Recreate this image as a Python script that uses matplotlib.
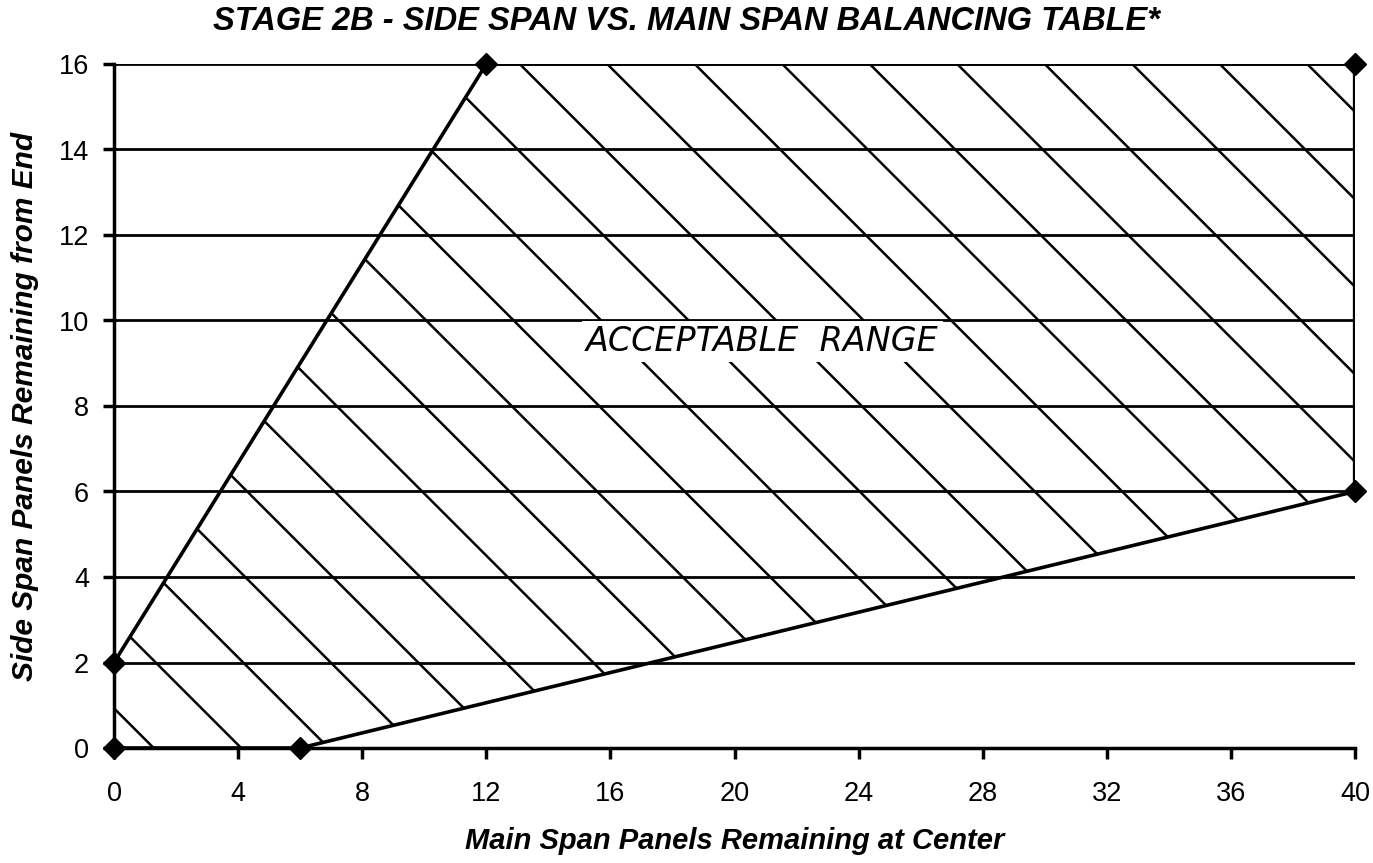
import numpy as np
import matplotlib
matplotlib.use("Agg")
import matplotlib.pyplot as plt
from matplotlib.patches import Polygon

# boundary of acceptable range (main span panels, side span panels)
main_span = [0, 6, 40, 40, 12, 0]
side_span = [0, 0, 6, 16, 16, 2]

x_ticks = [0, 4, 8, 12, 16, 20, 24, 28, 32, 36, 40]
y_ticks = [0, 2, 4, 6, 8, 10, 12, 14, 16]

title = "STAGE 2B - SIDE SPAN VS. MAIN SPAN BALANCING TABLE*"
xlabel = "Main Span Panels Remaining at Center"
ylabel = "Side Span Panels Remaining from End"
region_label = "ACCEPTABLE  RANGE"

W, H = 1373, 863
fig = plt.figure(figsize=(W / 100, H / 100), dpi=100)
left, right, bottom, top = 114 / W, 1355 / W, 1 - 748 / H, 1 - 64 / H
ax = fig.add_axes([left, bottom, right - left, top - bottom])
ax.set_xlim(0, 40)
ax.set_ylim(0, 16)

# hatch lines at 45 deg on screen, clipped to the region
px_x = (right - left) * W / 40.0
px_y = (top - bottom) * H / 16.0
slope = px_x / px_y
spacing = 87.5 / px_x
offset = 1.28

poly = Polygon(np.column_stack([main_span, side_span]), closed=True,
               facecolor="none", edgecolor="none")
ax.add_patch(poly)
b = offset
while b < 40 + 16 / slope + spacing:
    ys = np.array([0, 16])
    xs = b - ys / slope
    ln, = ax.plot(xs, ys, color="black", lw=1.8, zorder=2)
    ln.set_clip_path(poly)
    b += spacing

# grid lines
for yv in y_ticks[1:]:
    ax.axhline(yv, color="black", lw=2.0, zorder=1)

# boundary and points
ax.plot(main_span + [main_span[0]], side_span + [side_span[0]],
        color="black", lw=2.6, zorder=4)
ax.plot([40, 40], [6, 16], color="black", lw=3.8, zorder=4)
ax.plot(main_span, side_span, linestyle="none", marker="D", ms=11,
        color="black", zorder=5, clip_on=False)

ax.text(20.9, 9.5, region_label, fontsize=24, style="italic",
        family="DejaVu Sans", ha="center", va="center", zorder=6,
        bbox=dict(boxstyle="square,pad=0.12", fc="white", ec="none"))

for s in ["top", "right"]:
    ax.spines[s].set_visible(False)
for s in ["left", "bottom"]:
    ax.spines[s].set_linewidth(2.5)
    ax.spines[s].set_zorder(3)

ax.set_xticks(x_ticks)
ax.set_yticks(y_ticks)
ax.tick_params(axis="both", direction="out", length=8, width=2.5,
               labelsize=19.5, colors="black")
ax.tick_params(axis="x", pad=16)
ax.tick_params(axis="y", pad=10)
for lab in ax.get_xticklabels() + ax.get_yticklabels():
    lab.set_family("Liberation Sans")

fig.text(0.5, 1 - 21 / H, title, ha="center", va="center", fontsize=23.5,
         weight="bold", style="italic", family="Liberation Sans")
ax.set_xlabel(xlabel, fontsize=21, weight="bold", style="italic",
              family="Liberation Sans", labelpad=14)
ax.set_ylabel(ylabel, fontsize=21.5, weight="bold", style="italic",
              family="Liberation Sans", labelpad=14)

fig.savefig("out.png", dpi=100)
